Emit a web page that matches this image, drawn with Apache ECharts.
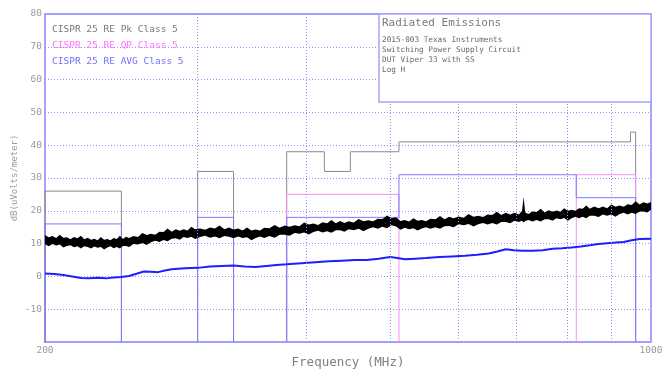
<!DOCTYPE html>
<html>
<head>
<meta charset="utf-8">
<title>Radiated Emissions</title>
<script src="https://cdn.jsdelivr.net/npm/echarts@6/dist/echarts.min.js"></script>
<style>
html, body { margin: 0; padding: 0; background: #fff; }
#main { width: 663px; height: 371px; }
</style>
</head>
<body>
<div id="main"></div>
<script>
// 限值 [起始MHz, 结束MHz, dB]
const pkBands = [[200, 245, 26], [300, 330, 32], [380, 420, 38], [420, 450, 32], [450, 512, 38], [512, 947, 41], [947, 960, 44]]
const qpBands = [[380, 512, 25], [820, 960, 31]]
const avgBands = [[200, 245, 16], [300, 330, 18], [380, 512, 18], [512, 820, 31], [820, 960, 24]]

// 峰值扫描（上下包络）
const pkFreq = [200, 202, 204, 206, 208, 210, 212, 214, 216, 218, 220, 222, 224, 226, 228, 230, 232, 234, 236, 238, 240, 242, 244, 246, 248, 250,
	253, 256, 259, 262, 265, 268, 271, 274, 277, 280, 283, 286, 289, 292, 295, 298,
	302, 306, 310, 314, 318, 322, 326, 330, 334, 338, 342, 346, 350, 354, 358,
	363, 368, 373, 378, 383, 388, 393, 398, 403, 408, 413, 418, 423, 428, 433, 438, 443, 448,
	454, 460, 466, 472, 478, 484, 490, 496, 502, 508, 514, 520, 526, 532, 538, 544, 550,
	557, 564, 571, 578, 585, 592, 600, 608, 616, 624, 632, 640, 648, 656, 664, 672, 680, 688, 696, 704,
	710, 713, 716, 722, 730, 738, 746, 754, 762, 770, 778, 786, 794, 802, 810, 818, 826, 834, 842, 850,
	860, 870, 880, 890, 900, 910, 920, 930, 940, 950, 960, 970, 980, 990, 1000]
const pkHigh = [12.6, 11.9, 12.3, 11.7, 12.7, 11.8, 11.9, 11.3, 12.0, 11.6, 12.4, 11.3, 11.8, 11.2, 11.5, 11.0, 12.0, 11.2, 11.4, 11.0, 11.7, 11.4, 12.4, 11.4, 12.1, 11.7,
	12.3, 12.0, 13.2, 12.6, 13.0, 12.7, 13.6, 13.5, 14.6, 13.6, 14.4, 13.9, 14.4, 14.0, 15.1, 14.4,
	14.6, 14.2, 14.9, 14.6, 15.5, 14.4, 14.9, 14.3, 14.6, 14.0, 14.9, 14.0, 14.3, 14.0, 14.8,
	14.7, 15.7, 14.8, 15.5, 15.1, 15.6, 15.3, 16.4, 15.8, 16.1, 15.7, 16.5, 16.2, 17.2, 16.2, 16.9, 16.3, 16.8,
	16.4, 17.5, 16.8, 17.1, 16.8, 17.6, 17.5, 18.6, 17.7, 18.0, 16.9, 17.2, 16.7, 17.7, 17.0, 17.2, 16.8,
	17.6, 17.4, 18.4, 17.4, 18.2, 17.7, 18.3, 17.9, 19.0, 18.2, 18.5, 18.1, 18.9, 18.7, 19.7, 18.7, 19.4, 18.9, 19.4, 18.9,
	20.0, 24.2, 19.5, 19.0, 19.8, 19.6, 20.6, 19.5, 20.2, 19.7, 20.1, 19.7, 20.8, 20.0, 20.3, 20.0, 20.8, 20.6, 21.6, 20.6,
	21.3, 20.8, 21.3, 20.8, 21.9, 21.2, 21.6, 21.2, 22.0, 21.8, 22.9, 21.9, 22.6, 22.2, 22.7]
const pkLow = [9.8, 9.2, 9.9, 9.4, 9.7, 8.8, 9.3, 9.5, 8.9, 9.2, 8.5, 9.2, 9.0, 8.5, 9.1, 8.7, 9.0, 8.2, 8.8, 9.2, 8.6, 9.0, 8.5, 9.3, 9.3, 9.0,
	9.9, 9.7, 10.2, 9.6, 10.4, 10.9, 10.5, 11.1, 10.7, 11.5, 11.6, 11.2, 12.0, 11.7, 12.1, 11.4,
	12.0, 12.4, 11.8, 12.2, 11.6, 12.3, 12.1, 11.6, 12.2, 11.7, 11.9, 11.0, 11.7, 12.2, 11.7,
	12.3, 11.8, 12.7, 12.7, 12.4, 13.2, 13.0, 13.4, 12.8, 13.5, 13.9, 13.4, 13.8, 13.3, 14.1, 14.1, 13.6, 14.4,
	14.1, 14.5, 13.8, 14.5, 15.0, 14.5, 15.1, 14.7, 15.6, 15.2, 14.2, 14.8, 14.4, 14.7, 14.0, 14.6, 15.0,
	14.5, 15.0, 14.5, 15.3, 15.4, 15.0, 15.9, 15.6, 16.0, 15.2, 15.9, 16.3, 15.8, 16.3, 15.8, 16.6, 16.6, 16.2, 17.0, 16.6,
	17.0, 16.4, 16.9, 17.2, 16.7, 17.2, 16.7, 17.4, 17.4, 17.0, 17.7, 17.4, 17.8, 17.0, 17.7, 18.2, 17.7, 18.2, 17.7, 18.5,
	18.5, 18.1, 18.9, 18.5, 18.9, 18.2, 19.0, 19.4, 18.9, 19.4, 19.0, 19.8, 19.8, 19.5, 20.3]

// 平均值扫描
const avgFreq = [200, 205, 210, 215, 220, 225, 230, 235, 240, 245, 250, 255, 260, 265, 270, 275, 280, 290, 300, 310,
	320, 330, 340, 350, 360, 370, 380, 395, 410, 425, 440, 455, 470, 485, 500, 510, 520, 535, 550, 570,
	590, 610, 630, 650, 665, 680, 695, 710, 730, 750, 770, 790, 810, 830, 850, 870, 890, 910, 930, 950, 970, 1000]
const avgVal = [0.9, 0.7, 0.4, 0.0, -0.5, -0.6, -0.4, -0.6, -0.3, -0.2, 0.1, 0.8, 1.5, 1.4, 1.3, 1.8, 2.2, 2.5, 2.6, 3.0,
	3.2, 3.3, 3.0, 2.9, 3.2, 3.5, 3.7, 4.0, 4.3, 4.6, 4.8, 5.0, 5.0, 5.4, 5.9, 5.6, 5.2, 5.4, 5.6, 5.9,
	6.1, 6.3, 6.6, 7.0, 7.6, 8.3, 8.0, 7.8, 7.8, 8.0, 8.4, 8.6, 8.8, 9.1, 9.5, 9.9, 10.1, 10.3, 10.5, 11.0, 11.4, 11.5]

const gridFreq = [300, 400, 500, 600, 700, 800, 900]
const legendNames = ['CISPR 25 RE Pk Class 5', 'CISPR 25 RE QP Class 5', 'CISPR 25 RE AVG Class 5']
const infoLines = ['2015-003 Texas Instruments', 'Switching Power Supply Circuit', 'DUT Viper 33 with SS', 'Log H']

const yMin = -20
const yMax = 80
const mono = '"DejaVu Sans Mono", monospace'

// 限值阶梯线：相邻频段只连竖线，断开处落到底
const stepLine = (bands) => {
	const pts = []
	bands.forEach((b, i) => {
		const prev = bands[i - 1]
		const next = bands[i + 1]
		if (!prev || prev[1] !== b[0]) {
			if (prev) pts.push([b[0], '-'])
			pts.push([b[0], yMin])
		}
		pts.push([b[0], b[2]], [b[1], b[2]])
		if (!next || next[0] !== b[1]) pts.push([b[1], yMin])
	})
	return pts
}

const chart = echarts.init(document.getElementById('main'))
const limitLine = (name, bands, color) => ({
	name: name,
	type: 'line',
	data: stepLine(bands),
	showSymbol: false,
	symbol: 'none',
	silent: true,
	z: 2,
	lineStyle: { color: color, width: 1 },
	itemStyle: { color: color }
})

chart.setOption({
	animation: false,
	grid: {
		left: 45, right: 12, top: 14, bottom: 29,
		outerBoundsMode: 'none',
		show: true, borderColor: '#a4a4ff', borderWidth: 2
	},
	title: [{
		text: 'Radiated Emissions',
		left: 382,
		top: 18,
		padding: 0,
		z: 20,
		textStyle: { fontFamily: mono, fontSize: 11, fontWeight: 'normal', color: '#7a7a7a' }
	}, {
		text: infoLines.join('\n'),
		left: 382,
		top: 35,
		padding: 0,
		z: 20,
		textStyle: { fontFamily: mono, fontSize: 7.7, lineHeight: 10, fontWeight: 'normal', color: '#6a6a6a' }
	}],
	graphic: [{
		type: 'rect',
		z: 10,
		shape: { x: 379, y: 14, width: 272, height: 88 },
		style: { fill: '#fff', stroke: '#a4a4ff', lineWidth: 1.5 }
	}],
	legend: {
		orient: 'vertical',
		left: 42,
		top: 20,
		itemGap: 6,
		itemWidth: 0,
		itemHeight: 10,
		icon: 'none',
		selectedMode: false,
		textStyle: { fontFamily: mono, fontSize: 9.5 },
		data: [
			{ name: legendNames[0], textStyle: { color: '#7a7a7a' } },
			{ name: legendNames[1], textStyle: { color: '#ff70ff' } },
			{ name: legendNames[2], textStyle: { color: '#7070ff' } }
		]
	},
	xAxis: {
		type: 'log',
		logBase: 10,
		min: 200,
		max: 1000,
		name: 'Frequency (MHz)',
		nameLocation: 'middle',
		nameMoveOverlap: false,
		nameGap: 14,
		nameTextStyle: { fontFamily: mono, fontSize: 12.5, color: '#808080' },
		axisLine: { show: false },
		axisTick: { show: false },
		splitLine: { show: false },
		axisLabel: {
			fontFamily: mono, fontSize: 9.5, color: '#999', margin: 4,
			formatter: (v) => String(Math.round(v))
		}
	},
	yAxis: {
		type: 'value',
		min: yMin,
		max: yMax,
		interval: 10,
		name: 'dB(uVolts/meter)',
		nameLocation: 'middle',
		nameMoveOverlap: false,
		nameGap: 26,
		nameTextStyle: { fontFamily: mono, fontSize: 9, color: '#999' },
		axisLine: { show: false },
		axisTick: { show: false },
		axisLabel: {
			fontFamily: mono, fontSize: 9.5, color: '#999', margin: 3,
			formatter: (v) => v === yMin ? '' : String(v)
		},
		splitLine: { lineStyle: { type: [1, 2], color: '#8f8fff', width: 1 } }
	},
	series: [
		{
			type: 'line',
			data: [],
			silent: true,
			z: 1,
			markLine: {
				silent: true,
				symbol: 'none',
				label: { show: false },
				animation: false,
				lineStyle: { type: [1, 2], color: '#8f8fff', width: 1 },
				data: gridFreq.map(f => ({ xAxis: f }))
			}
		},
		limitLine(legendNames[0], pkBands, '#8a8a8a'),
		limitLine(legendNames[1], qpBands, '#ff8cff'),
		limitLine(legendNames[2], avgBands, '#7c7cff'),
		{
			// 峰值噪声带：上下包络围成的多边形
			type: 'custom',
			silent: true,
			z: 3,
			data: pkFreq.map((f, i) => [f, pkLow[i], pkHigh[i]]),
			encode: { x: 0, y: [1, 2] },
			renderItem: (params, api) => {
				if (params.dataIndex !== 0) return null
				const top = pkFreq.map((f, i) => api.coord([f, pkHigh[i]]))
				const bottom = pkFreq.map((f, i) => api.coord([f, pkLow[i]])).reverse()
				return {
					type: 'polygon',
					shape: { points: top.concat(bottom) },
					style: { fill: '#000', lineWidth: 0 }
				}
			}
		},
		{
			type: 'line',
			data: avgFreq.map((f, i) => [f, avgVal[i]]),
			symbol: 'none',
			silent: true,
			z: 4,
			lineStyle: { color: '#1e1eff', width: 2 }
		}
	]
})
window.addEventListener('resize', () => chart.resize())
</script>
</body>
</html>
